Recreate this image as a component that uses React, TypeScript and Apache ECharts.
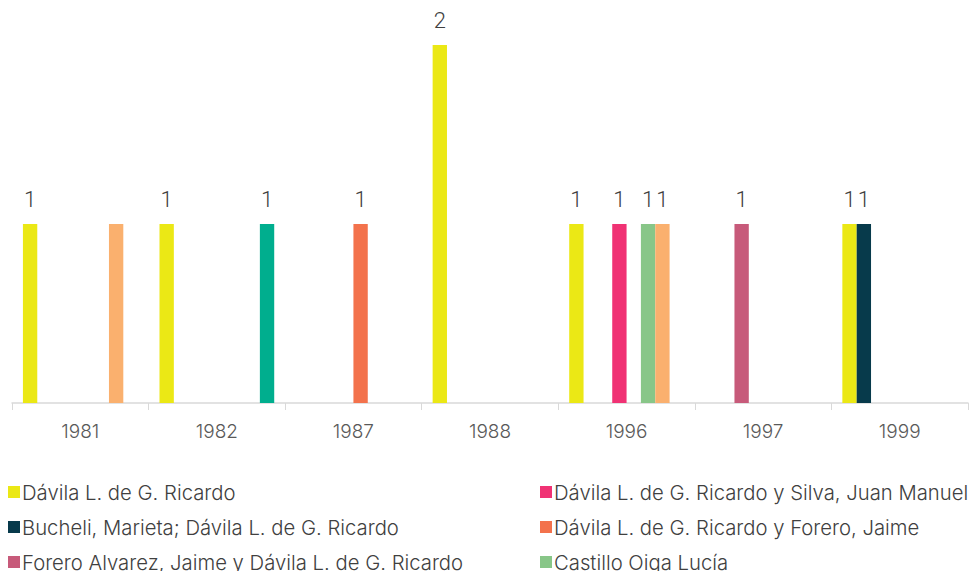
import React, { useEffect, useRef } from "react";
import * as echarts from "echarts";

const years = ["1981", "1982", "1987", "1988", "1996", "1997", "1999"];

const seriesNames = [
  "Dávila L. de G. Ricardo",
  "Bucheli, Marieta; Dávila L. de G. Ricardo",
  "Forero Alvarez, Jaime y Dávila L. de G. Ricardo",
  "Dávila L. de G. Ricardo y Silva, Juan Manuel",
  "Dávila L. de G. Ricardo y Forero, Jaime",
  "Castillo Oiga Lucía",
  "Dávila L. de G. Ricardo y otros",
  "Otros autores",
];

const seriesColors = [
  "#EBE815",
  "#073A4B",
  "#C75A7A",
  "#F03274",
  "#F3724C",
  "#88C688",
  "#FAB06E",
  "#00AE8E",
];

const davila = [1, 1, null, 2, 1, null, 1];
const bucheli = [null, null, null, null, null, null, 1];
const foreroAlvarez = [null, null, null, null, null, 1, null];
const davilaSilva = [null, null, null, null, 1, null, null];
const davilaForero = [null, null, 1, null, null, null, null];
const castillo = [null, null, null, null, 1, null, null];
const lightOrange = [1, null, null, null, 1, null, null];
const tealSeries = [null, 1, null, null, null, null, null];

const seriesValues = [davila, bucheli, foreroAlvarez, davilaSilva, davilaForero, castillo, lightOrange, tealSeries];

// [series index, category index] of values whose label is not shown
const unlabeled = [[6, 0]];

// legend items: series index, column, row
const legendItems = [
  [0, 0, 0],
  [3, 1, 0],
  [1, 0, 1],
  [4, 1, 1],
  [2, 0, 2],
  [5, 1, 2],
];

export default function App() {
  const ref = useRef<HTMLDivElement>(null);
  useEffect(() => {
    document.body.style.margin = "0";
    if (!ref.current) return;
    const chart = echarts.init(ref.current, undefined, { renderer: "svg" });
    const legendText = {
      fontFamily: "Inter",
      fontWeight: 300,
      fontSize: 20.3,
      color: "#404040",
      lineHeight: 22,
      padding: [0, 0, 0, -3],
    };
    const colX = [8, 540];
    const rowY = [481, 516, 551];
    chart.setOption({
      animation: false,
      textStyle: { fontFamily: "Inter" },
      grid: { left: 12, right: 1, top: 45, bottom: 168 },
      legend: legendItems.map(([s, c, r]) => ({
        data: [seriesNames[s]],
        orient: "horizontal",
        left: colX[c],
        top: rowY[r],
        itemWidth: 12,
        itemHeight: 12,
        icon: "rect",
        padding: 0,
        textStyle: legendText,
        selectedMode: false,
      })),
      xAxis: {
        type: "category",
        data: years,
        axisLine: { lineStyle: { color: "#D9D9D9", width: 1.5 } },
        axisTick: { show: true, length: 7, lineStyle: { color: "#D9D9D9" } },
        axisLabel: {
          color: "#595959",
          fontFamily: "Inter",
          fontWeight: 300,
          fontSize: 19,
          margin: 19,
        },
      },
      yAxis: {
        type: "value",
        min: 0,
        max: 2,
        show: false,
        splitLine: { show: false },
      },
      series: seriesNames.map((name, i) => ({
        name,
        type: "bar",
        data: seriesValues[i].map((v, j) =>
          unlabeled.some(([a, b]) => a === i && b === j)
            ? { value: v, label: { show: false } }
            : v
        ),
        barGap: "0%",
        barCategoryGap: "16%",
        itemStyle: { color: seriesColors[i] },
        label: {
          show: true,
          position: "top",
          distance: 14,
          color: "#404040",
          textBorderWidth: 0,
          fontFamily: "Roboto",
          fontWeight: 300,
          fontSize: 22,
        },
      })),
    });
    return () => chart.dispose();
  }, []);
  return <div ref={ref} style={{ width: 969, height: 571 }} />;
}
